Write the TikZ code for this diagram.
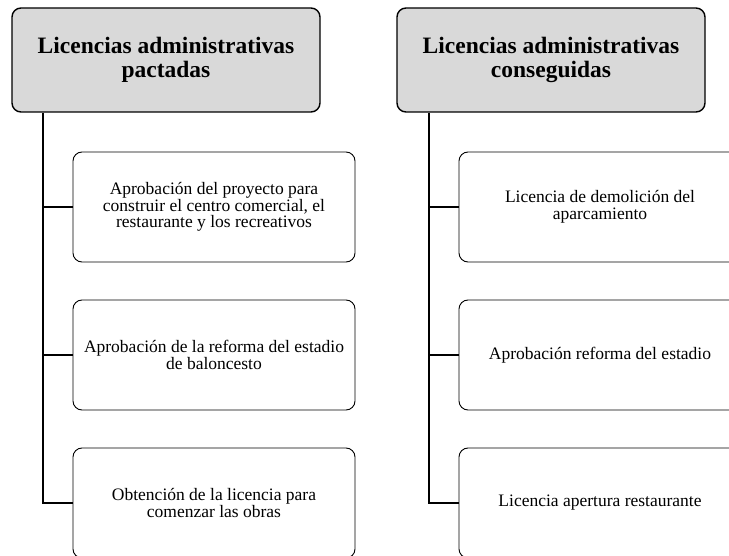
\documentclass[tikz,border=0pt]{standalone}
\usepackage{fontspec}
\setmainfont{Liberation Serif}
\usetikzlibrary{positioning}

\tikzset{
  head/.style={draw, line width=1.4pt, rounded corners=9pt, fill=black!15,
    minimum width=308pt, minimum height=104pt, align=center,
    font=\fontsize{23.5}{24}\selectfont\bfseries},
  item/.style={draw, line width=0.9pt, rounded corners=9pt, fill=white,
    minimum width=282pt, minimum height=110pt, align=center,
    font=\fontsize{17.5}{16.8}\selectfont},
  bus/.style={line width=1.2pt}
}

\begin{document}
\begin{tikzpicture}[x=1pt,y=-1pt]
  \useasboundingbox (0,0) rectangle (729,556);
  \clip (0,0) rectangle (729,556);

  % Coordinates
  \coordinate (lbus) at (43,0);
  \coordinate (rbus) at (429,0);

  % heads
  \node[head] (lhead) at (166,60) {Licencias administrativas\\pactadas};
  \node[head] (rhead) at (551,60) {Licencias administrativas\\conseguidas};

  % left column
  \node[item] (la1) at (214,207) {Aprobación del proyecto para\\construir el centro comercial, el\\restaurante y los recreativos};
  \node[item] (la2) at (214,355) {Aprobación de la reforma del estadio\\de baloncesto};
  \node[item] (la3) at (214,503) {Obtención de la licencia para\\comenzar las obras};

  % right column
  \node[item] (ra1) at (600,207) {Licencia de demolición del\\aparcamiento};
  \node[item] (ra2) at (600,355) {Aprobación reforma del estadio};
  \node[item] (ra3) at (600,503) {Licencia apertura restaurante};

  % connecting the units
  \draw[bus] (lhead.south -| lbus) |- (la3.west);
  \draw[bus] (rhead.south -| rbus) |- (ra3.west);
  \foreach \n in {la1,la2} \draw[bus] (lbus |- \n.west) -- (\n.west);
  \foreach \n in {ra1,ra2} \draw[bus] (rbus |- \n.west) -- (\n.west);

\end{tikzpicture}
\end{document}
